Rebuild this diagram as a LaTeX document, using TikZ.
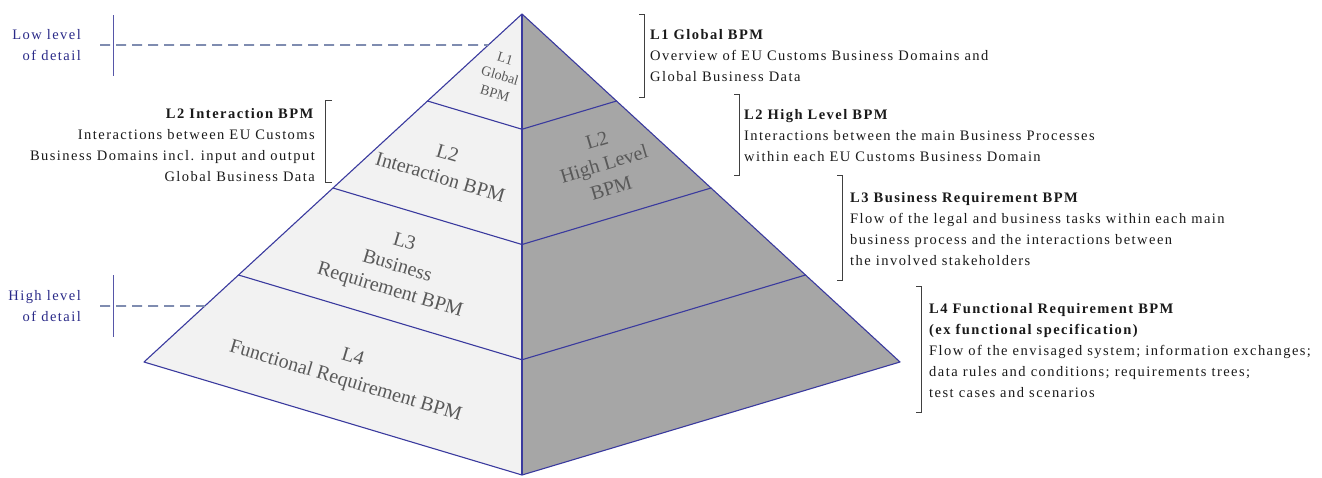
\documentclass[tikz,border=0pt]{standalone}
\usepackage{fontspec}
\setmainfont{Liberation Serif}
\newfontfamily\descfont[LetterSpace=10]{Liberation Serif}
\usetikzlibrary{calc}
\definecolor{edgeblue}{HTML}{3A3A9E}
\definecolor{leftface}{HTML}{F2F2F2}
\definecolor{rightface}{HTML}{A6A6A6}
\definecolor{labelgray}{HTML}{595959}
\definecolor{dashblue}{HTML}{7F8CB0}
\definecolor{markblue}{HTML}{5656A8}
\definecolor{detailblue}{HTML}{2A2A88}
\definecolor{bracketgray}{HTML}{404040}
\begin{document}
\begin{tikzpicture}[
  x=1pt, y=-1pt,
  edge_line/.style={draw=edgeblue, line width=1.1pt, line join=round},
  pyr_label/.style={inner sep=0pt, align=center, text=labelgray, font=\fontsize{20}{25}\selectfont},
  top_label/.style={pyr_label, font=\fontsize{14}{18}\selectfont},
  desc_text/.style={inner sep=0pt, align=left, anchor=north west, text=black!90, font=\descfont\fontsize{14.5}{21}\selectfont},
  detail_text/.style={inner sep=0pt, align=right, anchor=east, text=detailblue, font=\descfont\fontsize{14.5}{21}\selectfont},
  bracket_line/.style={draw=bracketgray, line width=1pt},
  level_mark/.style={draw=markblue, line width=1pt},
  level_dash/.style={draw=dashblue, line width=1.6pt, dash pattern=on 10pt off 6pt},
]
\useasboundingbox (0,0) rectangle (1322,477);
% pyramid corners
\coordinate (apex) at (522,14);
\coordinate (leftc) at (144,362);
\coordinate (rightc) at (900,362);
\coordinate (front) at (522,475);
% faces
\fill[leftface] (apex) -- (leftc) -- (front) -- cycle;
\fill[rightface] (apex) -- (rightc) -- (front) -- cycle;
\draw[edge_line] (apex) -- (leftc) -- (front) -- (rightc) -- cycle;
\draw[edge_line] (apex) -- (front);
% level bands
\foreach \t in {0.25,0.5,0.75}
  \draw[edge_line] ($(apex)!\t!(leftc)$) -- ($(apex)!\t!(front)$) -- ($(apex)!\t!(rightc)$);
% labels on the faces
\node (l1) [top_label, rotate=-16.6] at (500,76) {L1\\Global\\BPM};
\node (l2i) [pyr_label, rotate=-16.6] at (444,165) {L2\\Interaction BPM};
\node (l3) [pyr_label, rotate=-16.6] at (397,267) {L3\\Business\\Requirement BPM};
\node (l4) [pyr_label, rotate=-16.6] at (349,370) {L4\\Functional Requirement BPM};
\node (l2h) [pyr_label, rotate=16.6] at (604,164) {L2\\High Level\\BPM};
% level of detail marks
\node (low) [detail_text] at (81,45.5) {Low level\\of detail};
\node (high) [detail_text] at (81,306.5) {High level\\of detail};
\draw[level_mark] (113,15) -- (113,76);
\draw[level_mark] (113,275) -- (113,337);
\coordinate (lowedge) at ($(apex)!0.089!(leftc)$);
\coordinate (highedge) at ($(apex)!0.839!(leftc)$);
\draw[level_dash] (100,45) -- (lowedge);
\draw[level_dash] (100,306) -- (highedge);
% descriptions
\node (d1) [desc_text] at (650,29) {\textbf{L1 Global BPM}\\Overview of EU Customs Business Domains and\\Global Business Data};
\draw[bracket_line] (639,14) -- (644,14) -- (644,97) -- (639,97);
\node (d2i) [desc_text, align=right, anchor=north east] at (315,108) {\textbf{L2 Interaction BPM}\\Interactions between EU Customs\\Business Domains incl. input and output\\Global Business Data};
\draw[bracket_line] (332,100) -- (325,100) -- (325,182) -- (332,182);
\node (d2h) [desc_text] at (744,109) {\textbf{L2 High Level BPM}\\Interactions between the main Business Processes\\within each EU Customs Business Domain};
\draw[bracket_line] (734,94) -- (739,94) -- (739,175) -- (734,175);
\node (d3) [desc_text] at (850,192) {\textbf{L3 Business Requirement BPM}\\Flow of the legal and business tasks within each main\\business process and the interactions between\\the involved stakeholders};
\draw[bracket_line] (837,175) -- (842,175) -- (842,280) -- (837,280);
\node (d4) [desc_text] at (929,303) {\textbf{L4 Functional Requirement BPM}\\\textbf{(ex functional specification)}\\Flow of the envisaged system; information exchanges;\\data rules and conditions; requirements trees;\\test cases and scenarios};
\draw[bracket_line] (916,286) -- (921,286) -- (921,412) -- (916,412);
\end{tikzpicture}
\end{document}
